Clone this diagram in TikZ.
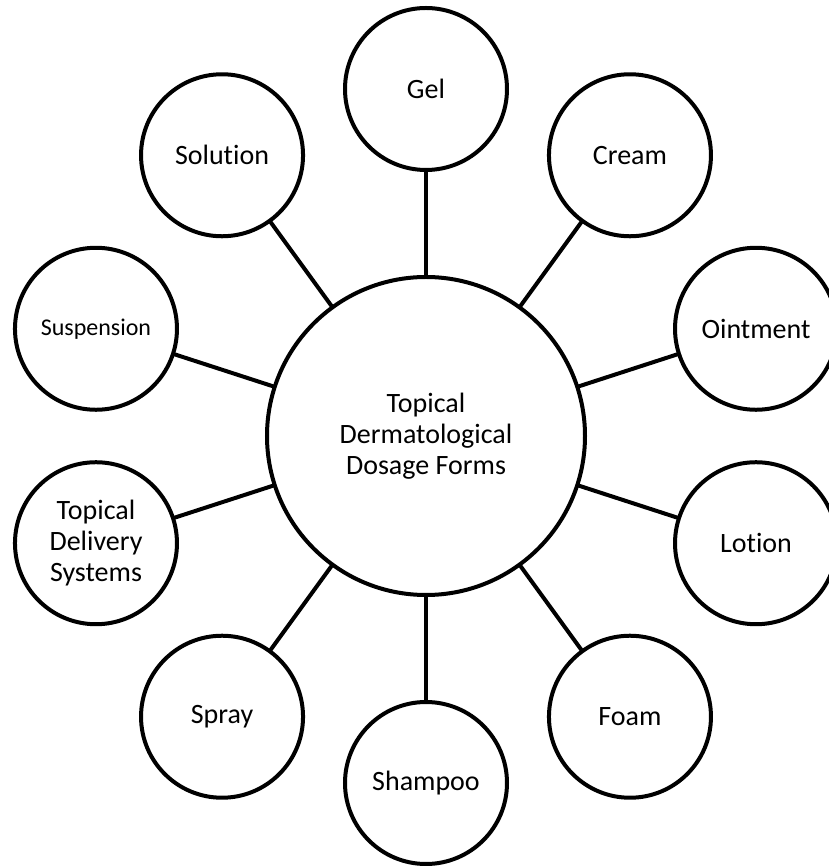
\documentclass[tikz,border=0pt]{standalone}
\usepackage{fontspec}
\setmainfont{Carlito}[Ligatures=NoCommon]
\usetikzlibrary{positioning}

\begin{document}
\begin{tikzpicture}[
    x=1pt, y=1pt,
    form/.style={circle, draw=black, line width=4pt, fill=white, minimum size=162pt, inner sep=0pt, outer sep=0pt, align=center, font=\fontsize{28}{31}\selectfont},
    hub/.style={form, minimum size=318pt},
    link/.style={line width=4pt}
]
\useasboundingbox (-426,-430) rectangle (402,436);
\node[hub] (core) at (0,0) {Topical\\Dermatological\\Dosage Forms};
\node[form] (gel) at (90:347pt) {Gel};
\node[form] (cream) at (54:347pt) {Cream};
\node[form] (ointment) at (18:347pt) {Ointment};
\node[form] (lotion) at (-18:347pt) {Lotion};
\node[form] (foam) at (-54:347pt) {Foam};
\node[form] (shampoo) at (-90:347pt) {Shampoo};
\node[form] (spray) at (-126:347pt) {Spray};
\node[form] (delivery) at (-162:347pt) {Topical\\Delivery\\Systems};
\node[form, font=\fontsize{24}{28}\selectfont] (suspension) at (162:347pt) {Suspension};
\node[form] (solution) at (126:347pt) {Solution};
\draw[link] (core) -- (gel);
\draw[link] (core) -- (cream);
\draw[link] (core) -- (ointment);
\draw[link] (core) -- (lotion);
\draw[link] (core) -- (foam);
\draw[link] (core) -- (shampoo);
\draw[link] (core) -- (spray);
\draw[link] (core) -- (delivery);
\draw[link] (core) -- (suspension);
\draw[link] (core) -- (solution);
\end{tikzpicture}
\end{document}
